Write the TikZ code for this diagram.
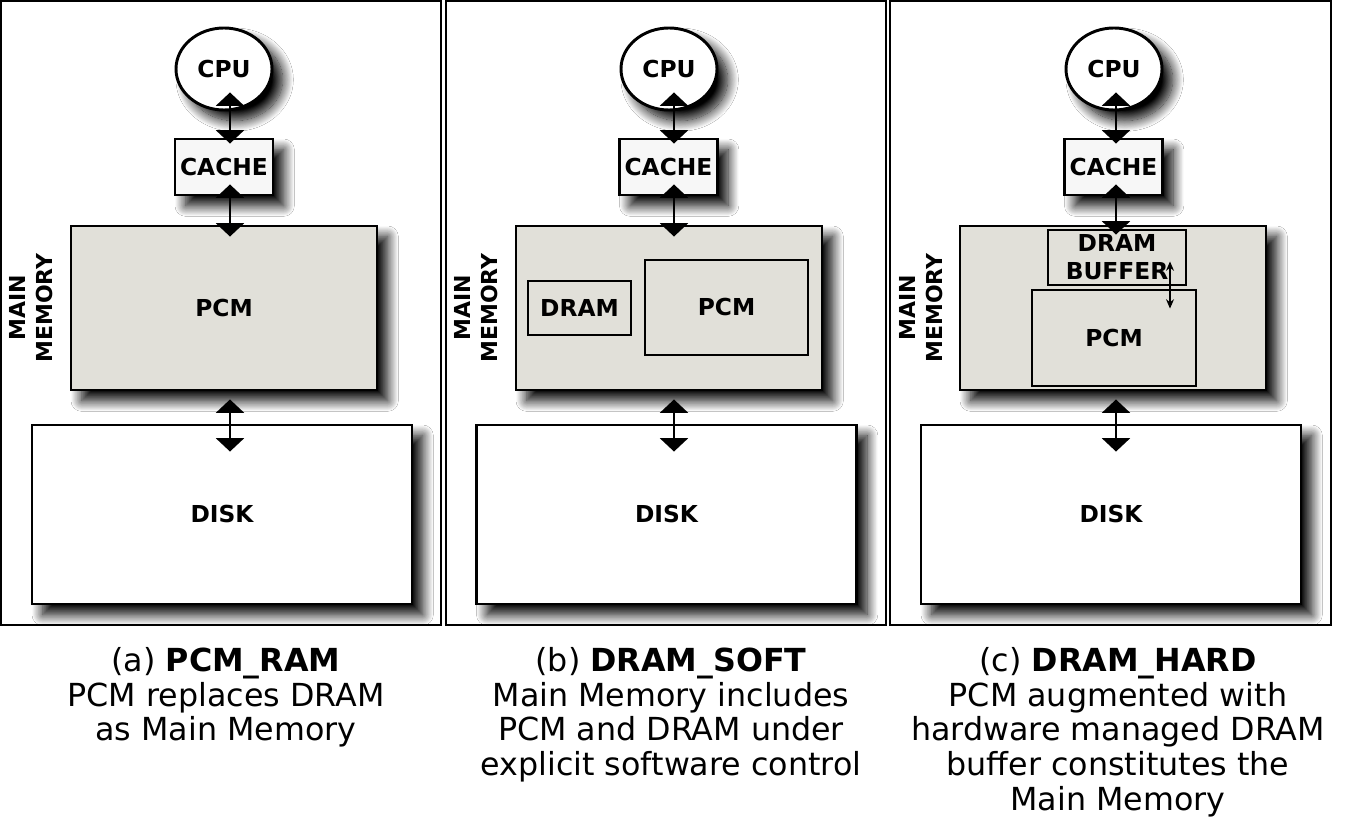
\documentclass[tikz,border=0pt]{standalone}
\usepackage{fontspec}
\setmainfont{DejaVu Sans}
\usetikzlibrary{arrows.meta,shadows.blur,shapes.geometric}
\definecolor{memgray}{RGB}{225,224,217}
\begin{document}
\begin{tikzpicture}[x=0.75pt,y=-0.75pt,
  every node/.style={inner sep=0pt},
  sh/.style={blur shadow={shadow xshift=8pt,shadow yshift=-8pt,shadow blur radius=8pt,shadow opacity=100,shadow blur steps=16}},
  lbl/.style={font=\fontsize{17.5}{21}\selectfont\bfseries},
  box/.style={draw,line width=2.2pt,lbl},
  cpubox/.style={ellipse,box,fill=white,sh,minimum width=72pt,minimum height=61.5pt},
  cachebox/.style={rectangle,box,fill=white!97!black,sh,minimum width=73.5pt,minimum height=42pt},
  membox/.style={rectangle,box,fill=memgray,sh,minimum width=229.5pt,minimum height=123pt},
  diskbox/.style={rectangle,box,fill=white,sh,minimum width=285pt,minimum height=134.25pt},
  innerbox/.style={rectangle,box,fill=memgray},
  frame/.style={draw,line width=1.5pt},
  biarrow/.style={{Triangle[width=21pt,length=10pt]}-{Triangle[width=21pt,length=10pt]},line width=1.5pt},
  smallarrow/.style={{Stealth[width=6pt,length=7pt]}-{Stealth[width=6pt,length=7pt]},line width=0.8pt},
  mmlabel/.style={rotate=90,align=center,font=\fontsize{16.5}{20.25}\selectfont\bfseries},
  caption/.style={anchor=north,align=center,font=\fontsize{23.8}{26}\selectfont}
]
\useasboundingbox (0,0) rectangle (1350,817);
\fill[white] (0,0) rectangle (1350,817);

% ---------- Panel (a) ----------
\draw[frame] (1,1) rectangle (441,625);
\node[diskbox] (da) at (222,514.5) {DISK};
\node[membox] (ma) at (224,308) {PCM};
\node[cachebox] (ca) at (224,167) {CACHE};
\node[cpubox] (pa) at (224,69) {CPU};
\node[mmlabel] (la) at (31.5,308) {MAIN\\MEMORY};
\coordinate (xa) at (230,0);
\draw[biarrow,shorten <=-14.25pt,shorten >=-4.5pt] (pa.south -| xa) -- (ca.north -| xa);
\draw[biarrow,shorten <=-9pt,shorten >=-9pt] (ca.south -| xa) -- (ma.north -| xa);
\draw[biarrow,shorten <=6pt,shorten >=-21pt] (ma.south -| xa) -- (da.north -| xa);
\node[caption] (capa) at (226,647) {(a) \textbf{PCM\_RAM}\\PCM replaces DRAM\\as Main Memory};

% ---------- Panel (b) ----------
\draw[frame] (446,1) rectangle (886,625);
\node[diskbox] (db) at (666.5,514.5) {DISK};
\node[membox] (mb) at (669,308) {};
\node[innerbox,minimum width=77.25pt,minimum height=40.5pt] (drb) at (579.5,308) {DRAM};
\node[innerbox,minimum width=122.25pt,minimum height=71.25pt] (pcb) at (726.5,307.5) {PCM};
\node[cachebox] (cb) at (668.5,167) {CACHE};
\node[cpubox] (pb) at (669,69) {CPU};
\node[mmlabel] (lb) at (476,308) {MAIN\\MEMORY};
\coordinate (xb) at (674,0);
\draw[biarrow,shorten <=-14.25pt,shorten >=-4.5pt] (pb.south -| xb) -- (cb.north -| xb);
\draw[biarrow,shorten <=-9pt,shorten >=-9pt] (cb.south -| xb) -- (mb.north -| xb);
\draw[biarrow,shorten <=6pt,shorten >=-21pt] (mb.south -| xb) -- (db.north -| xb);
\node[caption] (capb) at (671,647) {(b) \textbf{DRAM\_SOFT}\\Main Memory includes\\PCM and DRAM under\\explicit software control};

% ---------- Panel (c) ----------
\draw[frame] (890,1) rectangle (1331,625);
\node[diskbox] (dc) at (1111,514.5) {DISK};
\node[membox] (mc) at (1113,308) {};
\node[innerbox,minimum width=123pt,minimum height=72pt] (pcc) at (1114,338) {PCM};
\node[innerbox,minimum width=103.5pt,minimum height=41.25pt,align=center,font=\fontsize{17.5}{21}\selectfont\bfseries] (bfc) at (1117,257.5) {DRAM\\BUFFER};
\node[cachebox] (cc) at (1113.5,167) {CACHE};
\node[cpubox] (pc) at (1114,69) {CPU};
\node[mmlabel] (lc) at (921,308) {MAIN\\MEMORY};
\coordinate (xc) at (1116,0);
\coordinate (sc) at (1170,0);
\draw[biarrow,shorten <=-14.25pt,shorten >=-4.5pt] (pc.south -| xc) -- (cc.north -| xc);
\draw[biarrow,shorten <=-9pt,shorten >=-4.5pt] (cc.south -| xc) -- (bfc.north -| xc);
\draw[biarrow,shorten <=6pt,shorten >=-21pt] (mc.south -| xc) -- (dc.north -| xc);
\draw[smallarrow,shorten <=-18.75pt,shorten >=-15pt] (bfc.south -| sc) -- (pcc.north -| sc);
\node[caption] (capc) at (1118,647) {(c) \textbf{DRAM\_HARD}\\PCM augmented with\\hardware managed DRAM\\buffer constitutes the\\Main Memory};
\end{tikzpicture}
\end{document}
